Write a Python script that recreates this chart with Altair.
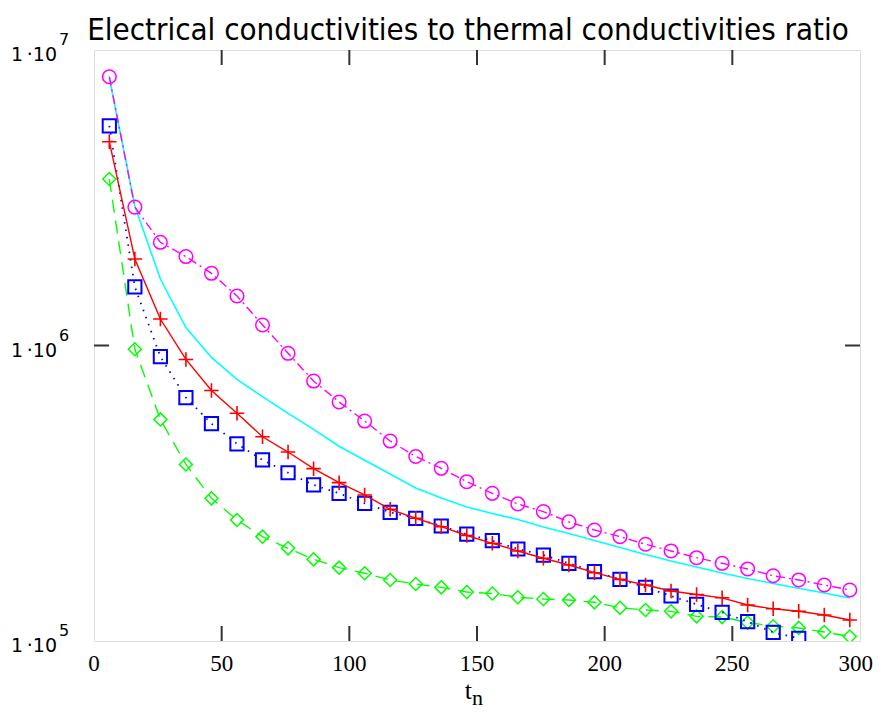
import altair as alt
import pandas as pd

# ---- data ----
t_n = [6, 16, 26, 36, 46, 56, 66, 76, 86, 96, 106, 116, 126, 136, 146,
       156, 166, 176, 186, 196, 206, 216, 226, 236, 246, 256, 266, 276, 286, 296]

magenta = [8.12e6, 2.94e6, 2.235e6, 2.00e6, 1.755e6, 1.471e6, 1.173e6, 9.41e5, 7.58e5, 6.44e5,
           5.55e5, 4.75e5, 4.21e5, 3.84e5, 3.46e5, 3.16e5, 2.91e5, 2.74e5, 2.53e5, 2.375e5,
           2.255e5, 2.125e5, 2.017e5, 1.914e5, 1.832e5, 1.753e5, 1.663e5, 1.609e5, 1.547e5, 1.488e5]

cyan = [8.04e6, 2.966e6, 1.679e6, 1.150e6, 9.11e5, 7.68e5, 6.71e5, 5.89e5, 5.20e5, 4.56e5,
        4.09e5, 3.674e5, 3.295e5, 3.047e5, 2.841e5, 2.701e5, 2.577e5, 2.432e5, 2.311e5, 2.188e5,
        2.072e5, 1.962e5, 1.865e5, 1.780e5, 1.699e5, 1.628e5, 1.565e5, 1.508e5, 1.453e5, 1.398e5]

red = [4.895e6, 1.962e6, 1.229e6, 8.97e5, 7.04e5, 5.90e5, 4.91e5, 4.36e5, 3.83e5, 3.434e5,
       3.12e5, 2.79e5, 2.602e5, 2.437e5, 2.275e5, 2.141e5, 2.017e5, 1.905e5, 1.808e5, 1.703e5,
       1.617e5, 1.547e5, 1.476e5, 1.437e5, 1.400e5, 1.324e5, 1.285e5, 1.261e5, 1.225e5, 1.178e5]

blue = [5.54e6, 1.578e6, 9.17e5, 6.66e5, 5.44e5, 4.65e5, 4.10e5, 3.71e5, 3.373e5, 3.16e5,
        2.924e5, 2.726e5, 2.602e5, 2.450e5, 2.298e5, 2.185e5, 2.048e5, 1.954e5, 1.832e5, 1.716e5,
        1.617e5, 1.519e5, 1.420e5, 1.331e5, 1.251e5, 1.162e5, 1.070e5, 1.021e5]

green = [3.66e6, 9.71e5, 5.62e5, 3.957e5, 3.04e5, 2.567e5, 2.255e5, 2.059e5, 1.890e5, 1.771e5,
         1.695e5, 1.609e5, 1.559e5, 1.519e5, 1.465e5, 1.448e5, 1.406e5, 1.387e5, 1.376e5, 1.352e5,
         1.296e5, 1.273e5, 1.260e5, 1.212e5, 1.205e5, 1.155e5, 1.122e5, 1.107e5, 1.073e5, 1.036e5]

x_ticks = [0, 50, 100, 150, 200, 250]
x_tick_labels = ["0", "50", "100", "150", "200", "250"]
x_last_tick = [300]
x_last_label = ["300"]
x_inner_ticks = [50, 100, 150, 200, 250]
y_label_vals = [1e5, 1e6, 1e7]
y_label_exps = ["5", "6", "7"]
y_inner_ticks = [1e6]

TITLE = "Electrical conductivities to thermal conductivities ratio"

W, H = 766, 591
TICK = 15

xscale = alt.Scale(domain=[0, 300], nice=False, zero=False)
yscale = alt.Scale(type="log", domain=[1e5, 1e7], nice=False)

xenc = alt.X("x:Q", scale=xscale, axis=None)
yenc = alt.Y("y:Q", scale=yscale, axis=None)


def series(vals, color, dash, shape, size, sw=1.4, mw=1.5):
    df = pd.DataFrame({"x": t_n[:len(vals)], "y": vals})
    base = alt.Chart(df)
    line_kwargs = dict(color=color, strokeWidth=sw, clip=True)
    if dash:
        line_kwargs["strokeDash"] = dash
    layers = [base.mark_line(**line_kwargs).encode(x=xenc, y=yenc)]
    if shape:
        layers.append(base.mark_point(shape=shape, size=size, filled=False, color=color,
                                      strokeWidth=mw, opacity=1, clip=True).encode(x=xenc, y=yenc))
    return layers


layers = []
layers += series(cyan, "#00FFFF", None, None, 0, sw=1.6)
layers += series(magenta, "#FF00FF", [9, 4, 2, 4], "circle", 185)
layers += series(green, "#00FF00", [13, 8], "diamond", 170)
layers += series(blue, "#0000FF", [1.5, 6], "square", 175, sw=1.8, mw=2)
layers += series(red, "#FF0000", None, "M-1,0L1,0M0,-1L0,1", 210, sw=1.4, mw=1.6)

# inner ticks (frame ticks pointing inwards)
xt = alt.Chart(pd.DataFrame({"x": x_inner_ticks}))
layers.append(xt.mark_rule(color="#333333", strokeWidth=2).encode(
    x=xenc, y=alt.value(H), y2=alt.value(H - TICK)))
layers.append(xt.mark_rule(color="#333333", strokeWidth=2).encode(
    x=xenc, y=alt.value(0), y2=alt.value(TICK)))
yt = alt.Chart(pd.DataFrame({"y": y_inner_ticks}))
layers.append(yt.mark_rule(color="#333333", strokeWidth=2).encode(
    y=yenc, x=alt.value(0), x2=alt.value(TICK)))
layers.append(yt.mark_rule(color="#333333", strokeWidth=2).encode(
    y=yenc, x=alt.value(W - TICK), x2=alt.value(W)))

# x tick labels
xl = alt.Chart(pd.DataFrame({"x": x_ticks, "lab": x_tick_labels}))
layers.append(xl.mark_text(align="center", baseline="alphabetic", font="Liberation Serif",
                           fontSize=23, color="black").encode(
    x=xenc, y=alt.value(H + 30), text="lab:N"))
xl2 = alt.Chart(pd.DataFrame({"x": x_last_tick, "lab": x_last_label}))
layers.append(xl2.mark_text(align="right", baseline="alphabetic", font="Liberation Serif",
                            fontSize=23, color="black", dx=13).encode(
    x=xenc, y=alt.value(H + 30), text="lab:N"))

# y labels "1·10" with superscript exponent
yl = alt.Chart(pd.DataFrame({"y": y_label_vals, "base": ["1\u2009·10"] * 3, "exp": y_label_exps}))
layers.append(yl.mark_text(align="right", baseline="middle", font="DejaVu Sans",
                           fontSize=19, color="black", dy=5).encode(
    y=yenc, x=alt.value(-37), text="base:N"))
layers.append(yl.mark_text(align="left", baseline="middle", font="DejaVu Sans",
                           fontSize=16, color="black", dy=-10).encode(
    y=yenc, x=alt.value(-35), text="exp:N"))

# x axis title t with subscript n
tt = alt.Chart(pd.DataFrame({"t": ["t"], "n": ["n"], "title": [TITLE]}))
layers.append(tt.mark_text(align="right", baseline="alphabetic", font="Liberation Serif",
                           fontSize=26, color="black").encode(
    x=alt.value(W / 2 - 5), y=alt.value(H + 58), text="t:N"))
layers.append(tt.mark_text(align="left", baseline="alphabetic", font="Liberation Serif",
                           fontSize=22, color="black").encode(
    x=alt.value(W / 2 - 5), y=alt.value(H + 64), text="n:N"))

# chart title
layers.append(tt.mark_text(align="center", baseline="alphabetic", font="DejaVu Sans Condensed",
                           fontSize=31, color="black").encode(
    x=alt.value(W / 2 - 9), y=alt.value(-10), text="title:N"))

chart = alt.layer(*layers).properties(
    width=W, height=H,
    autosize=alt.AutoSizeParams(type="none"),
    padding={"left": 86, "top": 42, "right": 13, "bottom": 70},
).configure_view(stroke="#333333", strokeWidth=2).configure(background="white")

chart.save("out.html", embed_options={"renderer": "svg", "actions": False})
